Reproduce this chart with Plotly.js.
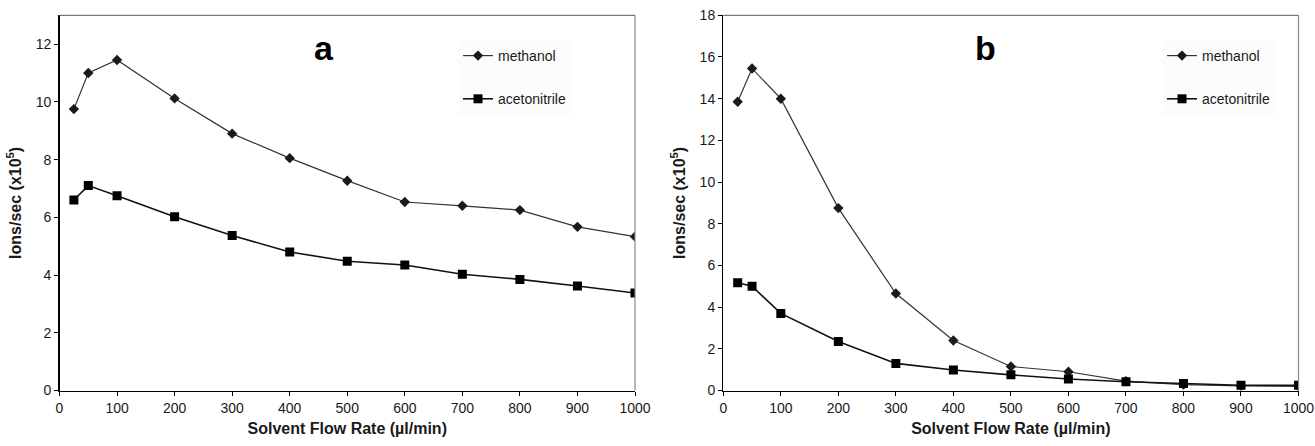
<!DOCTYPE html>
<html>
<head>
<meta charset="utf-8">
<script src="https://cdn.plot.ly/plotly-3.0.1.min.js"></script>
<style>html,body{margin:0;padding:0;background:#fff;}#chart{width:1315px;height:446px;}</style>
</head>
<body>
<div id="chart"></div>
<script>
// Flow rates (µl/min)
const flowRates = [25, 50, 100, 200, 300, 400, 500, 600, 700, 800, 900, 1000];
// Panel a
const aMethanol = [9.75, 11.0, 11.45, 10.12, 8.9, 8.05, 7.27, 6.53, 6.4, 6.25, 5.67, 5.33];
const aAcetonitrile = [6.6, 7.1, 6.75, 6.02, 5.37, 4.8, 4.48, 4.35, 4.03, 3.85, 3.62, 3.38];
// Panel b
const bMethanol = [13.85, 15.45, 14.0, 8.75, 4.65, 2.4, 1.15, 0.9, 0.45, 0.28, 0.22, 0.2];
const bAcetonitrile = [5.17, 5.0, 3.7, 2.35, 1.3, 0.98, 0.75, 0.55, 0.42, 0.33, 0.25, 0.25];
const xTicks = [0, 100, 200, 300, 400, 500, 600, 700, 800, 900, 1000];
const seriesNames = ['methanol', 'acetonitrile'];
const panelLabels = ['a', 'b'];

const FONT = 'Liberation Sans, Arial, sans-serif';
const ink = '#1a1a1a';

function meth(x, y, xa, ya, leg) {
  return {x, y, xaxis: xa, yaxis: ya, type: 'scatter', mode: 'lines+markers', name: seriesNames[0],
    legend: leg, legendgroup: leg + 'm',
    line: {color: '#333', width: 1.2}, marker: {symbol: 'diamond', size: 8, color: ink}};
}
function acet(x, y, xa, ya, leg) {
  return {x, y, xaxis: xa, yaxis: ya, type: 'scatter', mode: 'lines+markers', name: seriesNames[1],
    legend: leg, legendgroup: leg + 'a',
    line: {color: '#111', width: 1.6}, marker: {symbol: 'square', size: 9, color: '#000'}};
}

const traces = [
  meth(flowRates, aMethanol, 'x', 'y', 'legend'),
  acet(flowRates, aAcetonitrile, 'x', 'y', 'legend'),
  meth(flowRates, bMethanol, 'x2', 'y2', 'legend2'),
  acet(flowRates, bAcetonitrile, 'x2', 'y2', 'legend2')
];

const W = 1315, H = 446;
const yDom = [1 - 390.5 / H, 1 - 15.3 / H];

function xAxis(dom) {
  return {domain: dom, range: [0, 1000], tickvals: xTicks, ticks: 'outside', ticklen: 4, tickwidth: 1,
    tickcolor: '#000', showline: true, linecolor: '#000', linewidth: 1.3, showgrid: false, zeroline: false,
    tickfont: {family: FONT, size: 14, color: ink},
    title: {text: 'Solvent Flow Rate (µl/min)', font: {family: FONT, size: 16, color: ink, weight: 'bold'}, standoff: 8},
    fixedrange: true};
}
function yAxis(range, dtick, anchor) {
  return {domain: yDom, range: range, dtick: dtick, tick0: 0, anchor: anchor, ticks: 'outside', ticklen: 4, tickwidth: 1,
    tickcolor: '#000', showline: true, linecolor: '#000', linewidth: 1.3, showgrid: false, zeroline: false,
    tickfont: {family: FONT, size: 14, color: ink},
    title: {text: 'Ions/sec (x10<sup>5</sup>)', font: {family: FONT, size: 16, color: ink, weight: 'bold'}, standoff: 10},
    fixedrange: true};
}

function border(xr, yr) {
  return [
    {type: 'line', xref: xr + ' domain', yref: yr + ' domain', x0: 0, x1: 1, y0: 1, y1: 1, line: {color: '#777', width: 1.2}},
    {type: 'line', xref: xr + ' domain', yref: yr + ' domain', x0: 1, x1: 1, y0: 0, y1: 1, line: {color: '#888', width: 1.2}}
  ];
}

function legendCfg(xPix) {
  return {x: xPix / W, y: 1 - 40 / H, xanchor: 'left', yanchor: 'top', bgcolor: '#fcfcfc', borderwidth: 0,
    font: {family: FONT, size: 14, color: ink}, tracegroupgap: 22, itemwidth: 30, traceorder: 'grouped'};
}

const layout = {
  width: W, height: H,
  margin: {l: 0, r: 0, t: 0, b: 0},
  paper_bgcolor: '#fff', plot_bgcolor: '#fff',
  showlegend: true,
  xaxis: xAxis([59.5 / W, 635 / W]),
  yaxis: yAxis([0, 13], 2, 'x'),
  xaxis2: xAxis([723.3 / W, 1298.5 / W]),
  yaxis2: yAxis([0, 18], 2, 'x2'),
  legend: legendCfg(458),
  legend2: legendCfg(1162),
  shapes: [...border('x', 'y'), ...border('x2', 'y2')],
  annotations: [
    {text: panelLabels[0], xref: 'x domain', yref: 'y domain', x: (324 - 59.5) / (635 - 59.5), y: (390.5 - 48) / 375.2,
      xanchor: 'center', yanchor: 'middle',
      showarrow: false, font: {family: FONT, size: 34, color: '#000', weight: 'bold'}},
    {text: panelLabels[1], xref: 'x2 domain', yref: 'y2 domain', x: (985 - 723.3) / (1298.5 - 723.3), y: (390.5 - 48) / 375.2,
      xanchor: 'center', yanchor: 'middle',
      showarrow: false, font: {family: FONT, size: 34, color: '#000', weight: 'bold'}}
  ]
};

Plotly.newPlot('chart', traces, layout, {displayModeBar: false, staticPlot: true});
</script>
</body>
</html>
